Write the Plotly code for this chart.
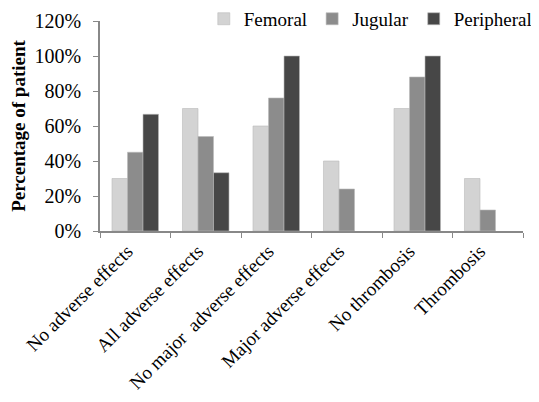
import plotly.graph_objects as go

categories = ["No adverse effects", "All adverse effects", "No major  adverse effects",
              "Major adverse effects", "No thrombosis", "Thrombosis"]
femoral = [30, 70, 60, 40, 70, 30]
jugular = [45, 54, 76, 24, 88, 12]
peripheral = [66.7, 33.3, 100, 0, 100, 0]
series_names = ["Femoral", "Jugular", "Peripheral"]
colors = ["#d3d3d3", "#8c8c8c", "#474747"]
y_ticks = [0, 20, 40, 60, 80, 100, 120]

fig = go.Figure()
for name, vals, c in zip(series_names, [femoral, jugular, peripheral], colors):
    fig.add_trace(go.Bar(name=name, x=categories, y=vals, marker_color=c,
                         marker_line=dict(color="#bbbbbb",
                                          width=[0.6 if v > 0 else 0 for v in vals])))

# page body adds an 8px offset, so the figure is sized/margined to compensate
fig.update_layout(
    width=531, height=394,
    barmode="group", bargap=0.34, bargroupgap=0,
    plot_bgcolor="white", paper_bgcolor="white",
    font=dict(family="Liberation Serif", color="black"),
    margin=dict(l=92, r=16, t=13, b=171, autoexpand=False),
    legend=dict(orientation="h", x=1.035, xanchor="right", y=1.01, yanchor="middle",
                font=dict(size=19), bgcolor="rgba(0,0,0,0)", itemwidth=30,
                traceorder="normal"),
    xaxis=dict(showline=True, linecolor="#888888", linewidth=1.5, ticks="outside",
               tickson="boundaries", ticklen=5, tickcolor="#888888", tickangle=-45,
               tickfont=dict(size=19), ticklabelshift=-8, automargin=False),
    yaxis=dict(range=[0, 120], tickvals=y_ticks, ticktext=[f"{v}%" for v in y_ticks],
               showline=True, linecolor="#888888", linewidth=1.5, ticks="outside", ticklen=5,
               tickcolor="#888888", showgrid=False, zeroline=False, tickfont=dict(size=20),
               ticklabelstandoff=8, automargin=False,
               title=dict(text="<b>Percentage of patient</b>", font=dict(size=19), standoff=4)),
)
fig.write_html("out.html")
